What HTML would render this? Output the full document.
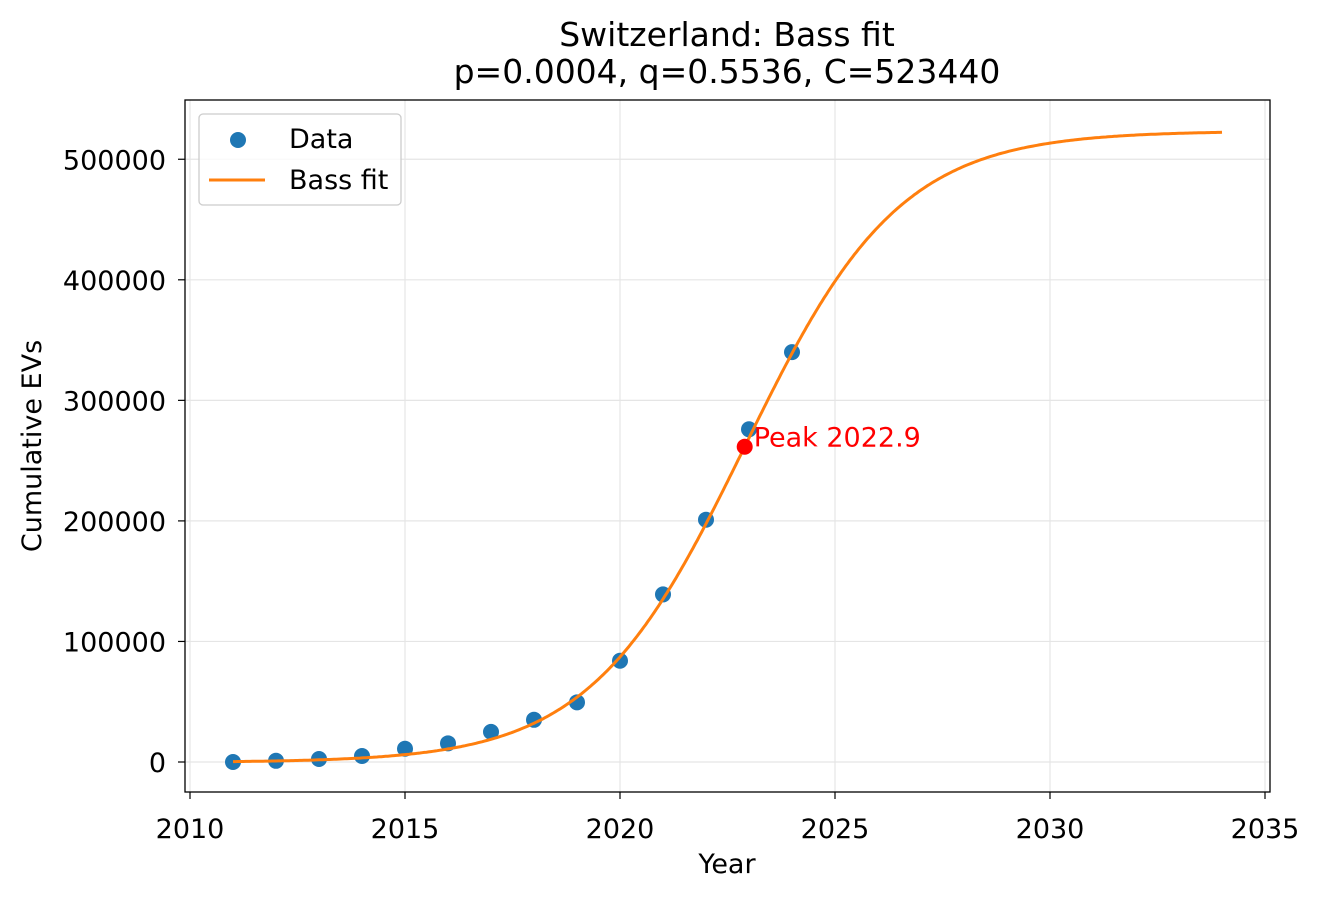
<!DOCTYPE html>
<html><head><meta charset="utf-8"><style>
body{margin:0;background:#fff;}
svg{font-family:"DejaVu Sans","Liberation Sans",sans-serif;}
</style></head><body>
<svg id="chart" width="1318" height="900" viewBox="0 0 1318 900">
<rect width="1318" height="900" fill="#fff"/>
<g id="grid"></g>
<g id="series"></g>
<rect x="185" y="100" width="1085" height="692" fill="none" stroke="#000" stroke-width="1.3"/>
<g id="axes" font-size="27"></g>
<text x="727" y="46" text-anchor="middle" font-size="33">Switzerland: Bass fit</text>
<text x="727" y="83" text-anchor="middle" font-size="33">p=0.0004, q=0.5536, C=523440</text>
<text x="727" y="873" text-anchor="middle" font-size="27">Year</text>
<text transform="translate(41,446) rotate(-90)" text-anchor="middle" font-size="27">Cumulative EVs</text>
<g>
<rect x="199" y="114" width="202" height="91" rx="4" fill="#fff" fill-opacity="0.8" stroke="#ccc" stroke-width="1.3"/>
<circle cx="238" cy="140" r="8" fill="#1f77b4"/>
<text x="289" y="148" font-size="27">Data</text>
<line x1="209" y1="180" x2="265" y2="180" stroke="#ff7f0e" stroke-width="3"/>
<text x="289" y="189" font-size="27">Bass fit</text>
</g>
</svg>
<script>
const years=[2011,2012,2013,2014,2015,2016,2017,2018,2019,2020,2021,2022,2023,2024];
const evs=[0,1000,2500,5000,11000,15500,25000,35000,49500,84000,139000,201000,276000,340000];
const xTicks=[2010,2015,2020,2025,2030,2035];
const yTicks=[0,100000,200000,300000,400000,500000];
const bassP=0.0004, bassQ=0.5536, bassC=523440, peakYear=2022.9, fitStart=2011, fitEnd=2034;
const X=v=>190+(v-2010)*43;
const Y=v=>762-v*0.0012055;
const ns="http://www.w3.org/2000/svg";
function mk(tag,attrs,parent){const e=document.createElementNS(ns,tag);for(const k in attrs)e.setAttribute(k,attrs[k]);parent.appendChild(e);return e;}
const grid=document.getElementById('grid'),axes=document.getElementById('axes'),series=document.getElementById('series');
xTicks.forEach(t=>{
 const g=mk('line',{x1:X(t),x2:X(t),y1:100,y2:792,stroke:'#e5e5e5','stroke-width':1.2},grid);
 
 
 mk('line',{x1:X(t),x2:X(t),y1:792,y2:799,stroke:'#000','stroke-width':1.2},axes);
 const tx=mk('text',{x:X(t),y:838,'text-anchor':'middle'},axes);tx.textContent=t;
 
 
});
yTicks.forEach(t=>{
 const g=mk('line',{x1:185,x2:1270,y1:Y(t),y2:Y(t),stroke:'#e5e5e5','stroke-width':1.2},grid);
 
 
 mk('line',{x1:178,x2:185,y1:Y(t),y2:Y(t),stroke:'#000','stroke-width':1.2},axes);
 const tx=mk('text',{x:166,y:Y(t)+10,'text-anchor':'end'},axes);tx.textContent=t;
 
 
});
years.forEach((yr,i)=>{
 const c=mk('circle',{cx:X(yr),cy:Y(evs[i]),r:8,fill:'#1f77b4'},series);
 
 
});
const s=bassP+bassQ, tPeak=Math.log(bassQ/bassP)/s, t0=peakYear-tPeak;
const F=yr=>{const t=yr-t0,e=Math.exp(-s*t);return bassC*(1-e)/(1+(bassQ/bassP)*e);};
let d='';
for(let yr=fitStart;yr<=fitEnd+1e-9;yr+=0.05){d+=(d?'L':'M')+X(yr).toFixed(1)+','+Y(F(yr)).toFixed(1);}
const path=mk('path',{d:d,fill:'none',stroke:'#ff7f0e','stroke-width':3},series);


const pk=mk('circle',{cx:X(peakYear),cy:Y(F(peakYear)),r:8,fill:'#ff0000'},series);


const pl=mk('text',{x:X(peakYear)+9,y:Y(F(peakYear))+0,fill:'#ff0000','font-size':27},series);
pl.textContent='Peak '+peakYear.toFixed(1);


</script>
</body></html>
